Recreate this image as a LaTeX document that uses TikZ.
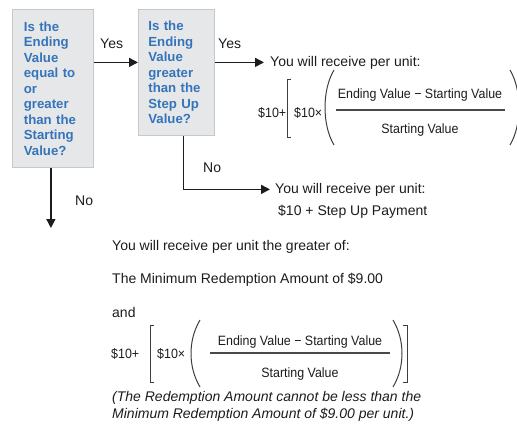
\documentclass[tikz,border=0pt]{standalone}
\usepackage{fontspec}
\setmainfont{Liberation Sans}
\newfontfamily\narrowfont[FakeStretch=0.92]{Liberation Sans}
\usetikzlibrary{arrows.meta,calc,positioning}

\definecolor{boxfill}{HTML}{E5E7E9}
\definecolor{boxline}{HTML}{C6C9CC}
\definecolor{qblue}{HTML}{3574BA}
\definecolor{ink}{HTML}{1C1C1C}

\tikzset{
  question/.style={draw=boxline, fill=boxfill, line width=0.8pt, align=left,
    text=qblue, font=\fontsize{13.2}{15.5}\selectfont\bfseries,
    inner ysep=0pt, anchor=north west},
  flow/.style={draw=ink, line width=1.5pt, -{Triangle[length=9pt,width=9pt]}},
  answer/.style={anchor=base west, inner sep=0pt, text=ink,
    font=\fontsize{14}{17}\selectfont},
  formula/.style={inner sep=0pt, text=ink, font=\narrowfont\fontsize{13.5}{16}\selectfont},
  delim/.style={draw=ink!85, line width=1pt},
  fracrule/.style={draw=ink!80, line width=1.6pt},
}

\begin{document}
\begin{tikzpicture}[x=1pt,y=-1pt]
  \useasboundingbox (0,0) rectangle (517,424);

  % the two questions
  \node[question, text width=58pt, inner xsep=11.5pt, minimum height=158pt] (box1) at (12,9)
    {Is the\\Ending\\Value\\equal to\\or\\greater\\than the\\Starting\\Value?};
  \node[question, text width=56pt, inner xsep=10pt, minimum height=126pt] (box2) at (138,9)
    {Is the\\Ending\\Value\\greater\\than the\\Step Up\\Value?};

  % answers
  \node[answer, inner xsep=6pt] (recv1) at (264,66) {You will receive per unit:};
  \node[answer, inner xsep=5pt] (recv2) at (270,193) {You will receive per unit:};
  \node[answer] (stepup) at (278,215) {\$10 + Step Up Payment};
  \node[answer] (greater) at (112,250) {You will receive per unit the greater of:};
  \node[answer] (minimum) at (112,283) {The Minimum Redemption Amount of \$9.00};
  \node[answer] (and) at (112,317) {and};
  \node[answer, align=left, font=\fontsize{14}{17}\selectfont\itshape] (note) at (112,418)
    {(The Redemption Amount cannot be less than the\\Minimum Redemption Amount of \$9.00 per unit.)};

  % yes / no labels
  \node[answer] (yes1) at (100,48) {Yes};
  \node[answer] (yes2) at (218,48) {Yes};
  \node[answer] (no1) at (75,205) {No};
  \node[answer] (no2) at (203,172) {No};

  % connectors
  \coordinate (down1) at (0,228);
  \draw[flow] (box1.east |- recv1.west) -- (box2.west |- recv1.west);
  \draw[flow] (box2.east |- recv1.west) -- (recv1.west);
  \draw[flow] ($(box2.south)+(7,0)$) |- (recv2.west);
  \draw[flow] ($(box1.south)+(-2,0)$) -- ($(box1.south |- down1)+(-2,0)$);

  % first formula
  \node[formula, anchor=base west] (f1plus) at (258,117) {\$10+};
  \node[formula, anchor=base west] (f1times) at (294,117) {\$10×};
  \node[formula, anchor=base] (f1num) at (420,98) {Ending Value − Starting Value};
  \node[formula, anchor=base] (f1den) at (420,133) {Starting Value};
  \draw[fracrule] (336,110) -- (505,110);
  \draw[delim] (291,79) -- (287,79) -- (287,137) -- (291,137);
  \draw[delim] (334,70) .. controls (322,90) and (322,125) .. (334,145);
  \draw[delim] (510,70) .. controls (522,90) and (522,125) .. (510,145);

  % second formula
  \node[formula, anchor=base west] (f2plus) at (111,358) {\$10+};
  \node[formula, anchor=base west] (f2times) at (157,358) {\$10×};
  \node[formula, anchor=base] (f2num) at (300,345) {Ending Value − Starting Value};
  \node[formula, anchor=base] (f2den) at (300,377) {Starting Value};
  \draw[fracrule] (210,353) -- (390,353);
  \draw[delim] (154,325) -- (150,325) -- (150,382) -- (154,382);
  \draw[delim] (200,320) .. controls (188,340) and (188,367) .. (200,387);
  \draw[delim] (393,320) .. controls (405,340) and (405,367) .. (393,387);
  \draw[delim] (403,325) -- (407,325) -- (407,382) -- (403,382);
\end{tikzpicture}
\end{document}
